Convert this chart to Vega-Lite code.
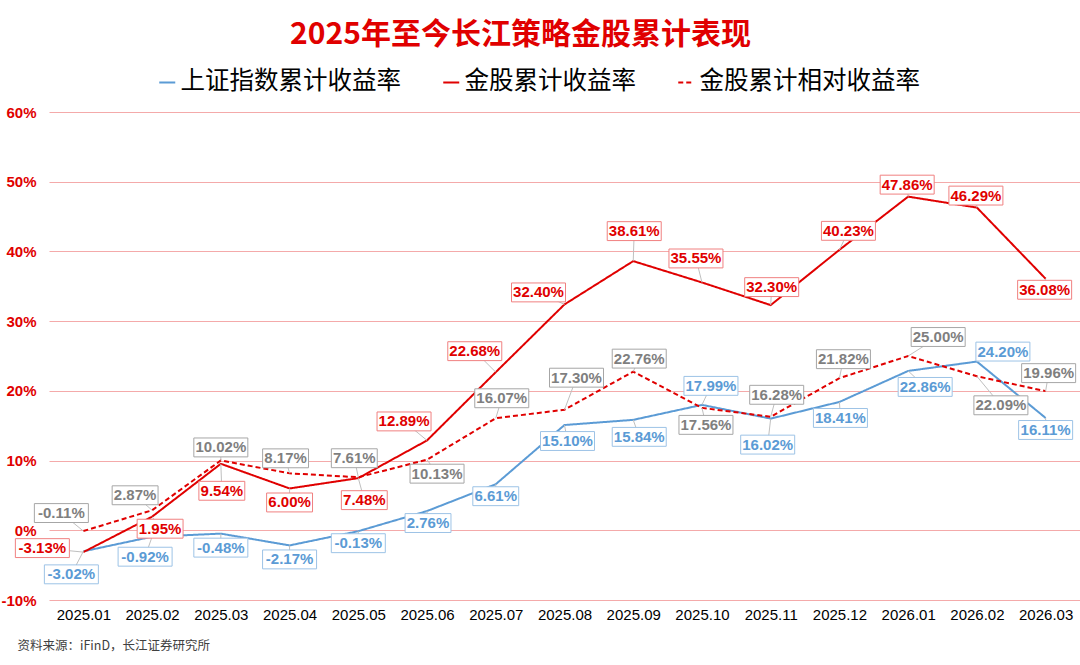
{
  "$schema": "https://vega.github.io/schema/vega-lite/v6.json",
  "width": 1031,
  "height": 488,
  "autosize": "none",
  "padding": {"left": 49, "top": 112, "right": 0, "bottom": 65},
  "background": "white",
  "config": {
    "view": {"stroke": null},
    "locale": {"number": {"decimal": ".", "thousands": ",", "grouping": [3], "currency": ["", ""], "minus": "-"}}
  },
  "title": {
    "text": "2025年至今长江策略金股累计表现",
    "font": "Noto Sans CJK SC",
    "fontSize": 30,
    "fontWeight": "bold",
    "color": "#E00000",
    "anchor": "middle",
    "frame": "group",
    "dx": -44,
    "offset": 20
  },
  "data": {
    "values": [
      {"m": "2025.01", "s": "上证指数累计收益率", "v": -0.0302},
      {"m": "2025.02", "s": "上证指数累计收益率", "v": -0.0092},
      {"m": "2025.03", "s": "上证指数累计收益率", "v": -0.0048},
      {"m": "2025.04", "s": "上证指数累计收益率", "v": -0.0217},
      {"m": "2025.05", "s": "上证指数累计收益率", "v": -0.0013},
      {"m": "2025.06", "s": "上证指数累计收益率", "v": 0.0276},
      {"m": "2025.07", "s": "上证指数累计收益率", "v": 0.0661},
      {"m": "2025.08", "s": "上证指数累计收益率", "v": 0.1510},
      {"m": "2025.09", "s": "上证指数累计收益率", "v": 0.1584},
      {"m": "2025.10", "s": "上证指数累计收益率", "v": 0.1799},
      {"m": "2025.11", "s": "上证指数累计收益率", "v": 0.1602},
      {"m": "2025.12", "s": "上证指数累计收益率", "v": 0.1841},
      {"m": "2026.01", "s": "上证指数累计收益率", "v": 0.2286},
      {"m": "2026.02", "s": "上证指数累计收益率", "v": 0.2420},
      {"m": "2026.03", "s": "上证指数累计收益率", "v": 0.1611},
      {"m": "2025.01", "s": "金股累计收益率", "v": -0.0313},
      {"m": "2025.02", "s": "金股累计收益率", "v": 0.0195},
      {"m": "2025.03", "s": "金股累计收益率", "v": 0.0954},
      {"m": "2025.04", "s": "金股累计收益率", "v": 0.0600},
      {"m": "2025.05", "s": "金股累计收益率", "v": 0.0748},
      {"m": "2025.06", "s": "金股累计收益率", "v": 0.1289},
      {"m": "2025.07", "s": "金股累计收益率", "v": 0.2268},
      {"m": "2025.08", "s": "金股累计收益率", "v": 0.3240},
      {"m": "2025.09", "s": "金股累计收益率", "v": 0.3861},
      {"m": "2025.10", "s": "金股累计收益率", "v": 0.3555},
      {"m": "2025.11", "s": "金股累计收益率", "v": 0.3230},
      {"m": "2025.12", "s": "金股累计收益率", "v": 0.4023},
      {"m": "2026.01", "s": "金股累计收益率", "v": 0.4786},
      {"m": "2026.02", "s": "金股累计收益率", "v": 0.4629},
      {"m": "2026.03", "s": "金股累计收益率", "v": 0.3608},
      {"m": "2025.01", "s": "金股累计相对收益率", "v": -0.0011},
      {"m": "2025.02", "s": "金股累计相对收益率", "v": 0.0287},
      {"m": "2025.03", "s": "金股累计相对收益率", "v": 0.1002},
      {"m": "2025.04", "s": "金股累计相对收益率", "v": 0.0817},
      {"m": "2025.05", "s": "金股累计相对收益率", "v": 0.0761},
      {"m": "2025.06", "s": "金股累计相对收益率", "v": 0.1013},
      {"m": "2025.07", "s": "金股累计相对收益率", "v": 0.1607},
      {"m": "2025.08", "s": "金股累计相对收益率", "v": 0.1730},
      {"m": "2025.09", "s": "金股累计相对收益率", "v": 0.2276},
      {"m": "2025.10", "s": "金股累计相对收益率", "v": 0.1756},
      {"m": "2025.11", "s": "金股累计相对收益率", "v": 0.1628},
      {"m": "2025.12", "s": "金股累计相对收益率", "v": 0.2182},
      {"m": "2026.01", "s": "金股累计相对收益率", "v": 0.2500},
      {"m": "2026.02", "s": "金股累计相对收益率", "v": 0.2209},
      {"m": "2026.03", "s": "金股累计相对收益率", "v": 0.1996}
    ]
  },
  "encoding": {
    "x": {
      "field": "m",
      "type": "ordinal",
      "sort": null,
      "scale": {"type": "point", "padding": 0.5},
      "axis": {
        "labelFont": "Liberation Sans",
        "labelFontSize": 15,
        "labelColor": "#000000",
        "labelAngle": 0,
        "labelPadding": 7,
        "ticks": false,
        "domain": false,
        "grid": false,
        "title": "资料来源：iFinD，长江证券研究所",
        "titleFont": "Noto Sans CJK SC",
        "titleFontSize": 12.5,
        "titleFontWeight": "normal",
        "titleColor": "#404040",
        "titleAnchor": "start",
        "titleAlign": "left",
        "titleBaseline": "middle",
        "titleX": -32,
        "titleY": 45
      }
    },
    "y": {
      "field": "v",
      "type": "quantitative",
      "scale": {"domain": [-0.1, 0.6], "nice": false, "zero": false},
      "axis": {
        "values": [-0.1, 0, 0.1, 0.2, 0.3, 0.4, 0.5, 0.6],
        "format": ".0%",
        "labelFont": "Liberation Sans",
        "labelFontSize": 15,
        "labelFontWeight": "bold",
        "labelColor": "#E00000",
        "labelPadding": 13,
        "ticks": false,
        "domain": false,
        "gridColor": "#F4AAAA",
        "gridWidth": 1,
        "title": null
      }
    }
  },
  "layer": [
    {
      "mark": {"type": "line", "strokeWidth": 2},
      "encoding": {
        "color": {
          "field": "s",
          "type": "nominal",
          "sort": ["上证指数累计收益率", "金股累计收益率", "金股累计相对收益率"],
          "scale": {"domain": ["上证指数累计收益率", "金股累计收益率", "金股累计相对收益率"], "range": ["#5B9BD5", "#E00000", "#E00000"]},
          "legend": {
            "orient": "none", "legendX": 106, "legendY": -42, "direction": "horizontal", "title": null,
            "labelFont": "Noto Sans CJK SC", "labelFontSize": 24.5, "labelColor": "#000000", "labelLimit": 400,
            "symbolType": "stroke", "symbolSize": 256, "symbolStrokeWidth": 2, "columnPadding": 38, "labelOffset": 1, "padding": 0
          }
        },
        "strokeDash": {
          "field": "s",
          "type": "nominal",
          "sort": ["上证指数累计收益率", "金股累计收益率", "金股累计相对收益率"],
          "scale": {"domain": ["上证指数累计收益率", "金股累计收益率", "金股累计相对收益率"], "range": [[1, 0], [1, 0], [5, 3]]},
          "legend": {
            "orient": "none", "legendX": 106, "legendY": -42, "direction": "horizontal", "title": null,
            "labelFont": "Noto Sans CJK SC", "labelFontSize": 24.5, "labelColor": "#000000", "labelLimit": 400,
            "symbolType": "stroke", "symbolSize": 256, "symbolStrokeWidth": 2, "columnPadding": 38, "labelOffset": 1, "padding": 0
          }
        }
      }
    },
    {
      "transform": [{"filter": "datum.s == '上证指数累计收益率'"}],
      "layer": [
        {
          "mark": {"type": "rule", "color": "#BFBFBF", "strokeWidth": 1,
            "x2Offset": {"expr": "[-12,-7,0,0,0,1,0,3,6,9,-3,1,17,26,0][(toNumber(slice(datum.m,0,4))-2025)*12+toNumber(slice(datum.m,5))-1]"},
            "y2Offset": {"expr": "[23,20,14,14,12,12,12,16,17,-19,26,16,16,-10,12][(toNumber(slice(datum.m,0,4))-2025)*12+toNumber(slice(datum.m,5))-1]"}},
          "encoding": {"x2": {"field": "m"}, "y2": {"field": "v"}}
        },
        {
          "mark": {"type": "point", "filled": true, "fill": "white", "stroke": "#9DC3E6", "strokeWidth": 1, "opacity": 1, "size": 2916,
            "xOffset": {"expr": "[-12,-7,0,0,0,1,0,3,6,9,-3,1,17,26,0][(toNumber(slice(datum.m,0,4))-2025)*12+toNumber(slice(datum.m,5))-1]"},
            "yOffset": {"expr": "[23,20,14,14,12,12,12,16,17,-19,26,16,16,-10,12][(toNumber(slice(datum.m,0,4))-2025)*12+toNumber(slice(datum.m,5))-1]"}},
          "encoding": {"shape": {"condition": {"test": "datum.v >= 0 && datum.v < 0.1", "value": "M-0.85,-0.35H0.85V0.35H-0.85Z"}, "value": "M-1,-0.35H1V0.35H-1Z"}}
        },
        {
          "mark": {"type": "text", "font": "Liberation Sans", "fontSize": 15, "fontWeight": "bold", "color": "#5B9BD5", "align": "center", "baseline": "middle",
            "xOffset": {"expr": "[-12,-7,0,0,0,1,0,3,6,9,-3,1,17,26,0][(toNumber(slice(datum.m,0,4))-2025)*12+toNumber(slice(datum.m,5))-1]"},
            "yOffset": {"expr": "[23,20,14,14,12,12,12,16,17,-19,26,16,16,-10,12][(toNumber(slice(datum.m,0,4))-2025)*12+toNumber(slice(datum.m,5))-1]"}},
          "encoding": {"text": {"field": "v", "type": "quantitative", "format": ".2%"}}
        }
      ]
    },
    {
      "transform": [{"filter": "datum.s == '金股累计相对收益率'"}],
      "layer": [
        {
          "mark": {"type": "rule", "color": "#BFBFBF", "strokeWidth": 1,
            "x2Offset": {"expr": "[-22,-17,0,-4,-4,10,6,12,6,4,6,4,30,24,3][(toNumber(slice(datum.m,0,4))-2025)*12+toNumber(slice(datum.m,5))-1]"},
            "y2Offset": {"expr": "[-18,-15,-13,-15,-19,14,-20,-32,-13,17,-22,-19,-19,29,-18][(toNumber(slice(datum.m,0,4))-2025)*12+toNumber(slice(datum.m,5))-1]"}},
          "encoding": {"x2": {"field": "m"}, "y2": {"field": "v"}}
        },
        {
          "mark": {"type": "point", "filled": true, "fill": "white", "stroke": "#A6A6A6", "strokeWidth": 1, "opacity": 1, "size": 2916,
            "xOffset": {"expr": "[-22,-17,0,-4,-4,10,6,12,6,4,6,4,30,24,3][(toNumber(slice(datum.m,0,4))-2025)*12+toNumber(slice(datum.m,5))-1]"},
            "yOffset": {"expr": "[-18,-15,-13,-15,-19,14,-20,-32,-13,17,-22,-19,-19,29,-18][(toNumber(slice(datum.m,0,4))-2025)*12+toNumber(slice(datum.m,5))-1]"}},
          "encoding": {"shape": {"condition": {"test": "datum.v >= 0 && datum.v < 0.1", "value": "M-0.85,-0.35H0.85V0.35H-0.85Z"}, "value": "M-1,-0.35H1V0.35H-1Z"}}
        },
        {
          "mark": {"type": "text", "font": "Liberation Sans", "fontSize": 15, "fontWeight": "bold", "color": "#7F7F7F", "align": "center", "baseline": "middle",
            "xOffset": {"expr": "[-22,-17,0,-4,-4,10,6,12,6,4,6,4,30,24,3][(toNumber(slice(datum.m,0,4))-2025)*12+toNumber(slice(datum.m,5))-1]"},
            "yOffset": {"expr": "[-18,-15,-13,-15,-19,14,-20,-32,-13,17,-22,-19,-19,29,-18][(toNumber(slice(datum.m,0,4))-2025)*12+toNumber(slice(datum.m,5))-1]"}},
          "encoding": {"text": {"field": "v", "type": "quantitative", "format": ".2%"}}
        }
      ]
    },
    {
      "transform": [{"filter": "datum.s == '金股累计收益率'"}],
      "layer": [
        {
          "mark": {"type": "rule", "color": "#BFBFBF", "strokeWidth": 1,
            "x2Offset": {"expr": "[-41,8,1,0,6,-23,-21,-26,1,-6,1,9,-1,-1,-1][(toNumber(slice(datum.m,0,4))-2025)*12+toNumber(slice(datum.m,5))-1]"},
            "y2Offset": {"expr": "[-4,12,27,14,22,-19,-21,-12,-30,-24,-18,-19,-12,-12,11][(toNumber(slice(datum.m,0,4))-2025)*12+toNumber(slice(datum.m,5))-1]"}},
          "encoding": {"x2": {"field": "m"}, "y2": {"field": "v"}}
        },
        {
          "mark": {"type": "point", "filled": true, "fill": "white", "stroke": "#F08080", "strokeWidth": 1, "opacity": 1, "size": 2916,
            "xOffset": {"expr": "[-41,8,1,0,6,-23,-21,-26,1,-6,1,9,-1,-1,-1][(toNumber(slice(datum.m,0,4))-2025)*12+toNumber(slice(datum.m,5))-1]"},
            "yOffset": {"expr": "[-4,12,27,14,22,-19,-21,-12,-30,-24,-18,-19,-12,-12,11][(toNumber(slice(datum.m,0,4))-2025)*12+toNumber(slice(datum.m,5))-1]"}},
          "encoding": {"shape": {"condition": {"test": "datum.v >= 0 && datum.v < 0.1", "value": "M-0.85,-0.35H0.85V0.35H-0.85Z"}, "value": "M-1,-0.35H1V0.35H-1Z"}}
        },
        {
          "mark": {"type": "text", "font": "Liberation Sans", "fontSize": 15, "fontWeight": "bold", "color": "#E00000", "align": "center", "baseline": "middle",
            "xOffset": {"expr": "[-41,8,1,0,6,-23,-21,-26,1,-6,1,9,-1,-1,-1][(toNumber(slice(datum.m,0,4))-2025)*12+toNumber(slice(datum.m,5))-1]"},
            "yOffset": {"expr": "[-4,12,27,14,22,-19,-21,-12,-30,-24,-18,-19,-12,-12,11][(toNumber(slice(datum.m,0,4))-2025)*12+toNumber(slice(datum.m,5))-1]"}},
          "encoding": {"text": {"field": "v", "type": "quantitative", "format": ".2%"}}
        }
      ]
    }
  ]
}
